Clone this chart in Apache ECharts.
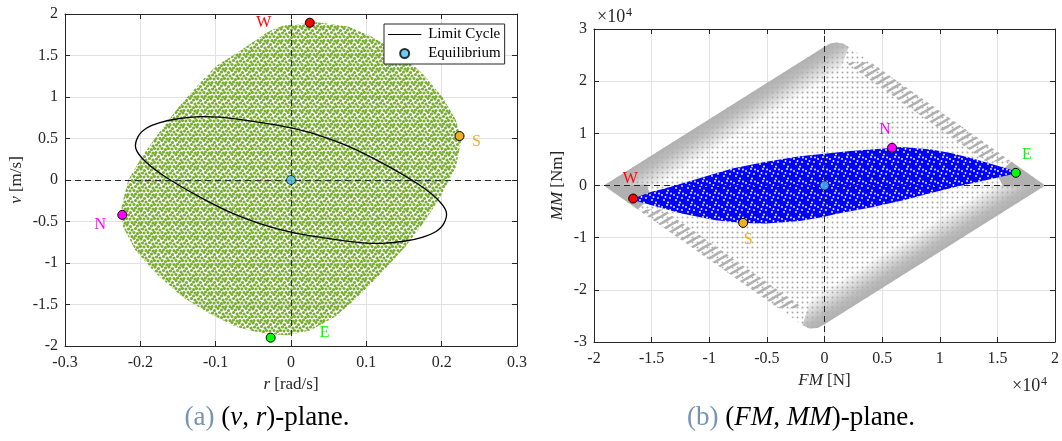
<!DOCTYPE html>
<html>
<head>
<meta charset="utf-8">
<script src="https://cdn.jsdelivr.net/npm/echarts@6.0.0/dist/echarts.min.js"></script>
<style>
  html, body { margin: 0; background: #fff; }
  #chart { width: 1062px; height: 441px; }
</style>
</head>
<body>
<div id="chart"></div>
<script>
// ---- left panel: (v, r)-plane, r in rad/s, v in m/s ----
const vrCloudOutline = [
  [0.035, 1.9], [-0.01, 1.86], [-0.03, 1.79], [-0.046, 1.69], [-0.072, 1.53], [-0.1, 1.37],
  [-0.122, 1.16], [-0.149, 0.88], [-0.176, 0.56], [-0.198, 0.28], [-0.216, 0], [-0.225, -0.32],
  [-0.223, -0.56], [-0.207, -0.84], [-0.18, -1.12], [-0.144, -1.41], [-0.108, -1.61],
  [-0.072, -1.77], [-0.037, -1.85], [-0.005, -1.87], [0.026, -1.81], [0.058, -1.65],
  [0.089, -1.41], [0.12, -1.12], [0.152, -0.8], [0.179, -0.48], [0.201, -0.16], [0.219, 0.16],
  [0.226, 0.48], [0.219, 0.72], [0.201, 1.0], [0.174, 1.29], [0.143, 1.53], [0.107, 1.73],
  [0.076, 1.85]
];
const limitCycle = [
  [-0.206, 0.38], [-0.203, 0.522], [-0.192, 0.623], [-0.174, 0.69], [-0.152, 0.735],
  [-0.121, 0.763], [-0.095, 0.757], [-0.064, 0.725], [-0.033, 0.683], [0, 0.628],
  [0.034, 0.548], [0.078, 0.4], [0.122, 0.2], [0.167, -0.04], [0.193, -0.22],
  [0.206, -0.38], [0.203, -0.522], [0.192, -0.623], [0.174, -0.69], [0.152, -0.735],
  [0.121, -0.763], [0.095, -0.757], [0.064, -0.725], [0.033, -0.683], [0, -0.628],
  [-0.034, -0.548], [-0.078, -0.4], [-0.122, -0.2], [-0.167, 0.04], [-0.193, 0.22]
];
const vrEquilibrium = [0, 0];
const markNames = ['W', 'S', 'N', 'E'];
const vrMarks = [[0.025, 1.895], [0.2237, 0.53], [-0.224, -0.42], [-0.027, -1.9]];

// ---- right panel: (FM, MM)-plane, both in units of 1e4 ----
const fmDiamond = [
  [-1.915, 0], [0.0, 2.66], [0.05, 2.72], [0.1, 2.74], [0.16, 2.72], [0.21, 2.66],
  [1.915, 0], [0.0, -2.66], [-0.06, -2.73], [-0.13, -2.74], [-0.19, -2.68]
];
const fmBandTL = [[-1.915, 0], [0.0, 2.66], [0.05, 2.72], [0.1, 2.74], [0.16, 2.72], [0.21, 2.66], [0.1, 2.0], [-1.4, 0.0]];
const fmBandBR = [[1.915, 0], [0.0, -2.66], [-0.06, -2.73], [-0.13, -2.74], [-0.19, -2.68], [-0.1, -2.0], [1.4, 0.0]];
const fmTipW = [[-1.915, 0], [-1.62, -0.46], [-1.5, -0.2], [-1.55, 0.02]];
const fmTipE = [[1.915, 0], [1.62, 0.46], [1.5, 0.2], [1.55, -0.02]];
const fmStreakUR = [[0.4, 2.364], [1.62, 0.46], [1.4, 0.46], [0.18, 2.364]];
const fmStreakLL = [[-1.62, -0.46], [-0.4, -2.354], [-0.18, -2.354], [-1.4, -0.46]];
const fmCloudOutline = [
  [-1.66, -0.25], [-1.5, -0.12], [-1.385, -0.058], [-1.092, 0.134], [-0.8, 0.326],
  [-0.507, 0.454], [-0.214, 0.56], [0, 0.61], [0.225, 0.66], [0.518, 0.71], [0.665, 0.74],
  [0.928, 0.69], [1.104, 0.62], [1.28, 0.52], [1.45, 0.41], [1.63, 0.29], [1.68, 0.25],
  [1.6, 0.2], [1.4, 0.1], [1.133, -0.03], [0.9, -0.16], [0.694, -0.28], [0.4, -0.42],
  [0.108, -0.54], [0, -0.6], [-0.214, -0.68], [-0.507, -0.73], [-0.706, -0.72],
  [-0.946, -0.665], [-1.239, -0.537], [-1.531, -0.358], [-1.64, -0.29]
];
const fmEquilibrium = [0, 0];
const fmMarks = [[-1.66, -0.25], [-0.706, -0.717], [0.586, 0.723], [1.66, 0.243]];

// ---- styles ----
const SERIF = '"Liberation Serif", "Times New Roman", serif';
const INK = '#262626';
const markColors = ['#ff0000', '#edb120', '#ff00ff', '#00ff00'];
const vrLabelOffset = [[-46, 0], [17, 6], [-22, 10], [54, -5]];
const fmLabelOffset = [[-3, -20], [5, 17], [-7, -18], [11, -18]];

function tile(w, h, draw) {
  const c = document.createElement('canvas');
  c.width = w; c.height = h;
  draw(c.getContext('2d'));
  return { image: c, repeat: 'repeat' };
}
function dotTile(w, h, pts, r, color, bg) {
  return tile(w, h, g => {
    if (bg) { g.fillStyle = bg; g.fillRect(0, 0, w, h); }
    g.fillStyle = color;
    pts.forEach(([x, y]) => {
      for (let i = -1; i <= 1; i++) for (let j = -1; j <= 1; j++) {
        g.beginPath(); g.arc(x + i * w, y + j * h, r, 0, Math.PI * 2); g.fill();
      }
    });
  });
}
function stripeTile(w, h, lw, color) {
  return tile(w, h, g => {
    g.strokeStyle = color; g.lineWidth = lw;
    [-h, 0, h].forEach(d => { g.beginPath(); g.moveTo(-1, h + d + h / w); g.lineTo(w + 1, d - h / w); g.stroke(); });
  });
}

const greenFill = dotTile(14, 14, [[1, 1], [4.5, 2.5], [8, 0.5], [11.5, 2], [2.5, 5], [6, 6], [9.5, 4.5],
  [13, 6], [0.5, 8.5], [4, 9], [8, 8.5], [11.5, 9.5], [2, 12.5], [6, 12.5], [9.5, 12], [13, 13]],
  1.55, '#77ac30');
const blueFill = dotTile(12, 12, [[2, 3], [7, 1], [10, 6], [4, 8], [8, 10.5], [11, 1.5], [5.5, 5]], 0.9, '#ffffff', '#0000ff');
const grayDots = dotTile(5, 5, [[2.5, 2.5]], 1.0, '#a6a6a6');
const grayStripes = stripeTile(12, 7.2, 2.6, '#b0b0b0');

function area(name, ax, pts, fill, z) {
  return {
    type: 'custom', name, xAxisIndex: ax, yAxisIndex: ax, z, silent: true, animation: false,
    data: pts,
    renderItem(params, api) {
      if (params.dataIndex !== 0) return null;
      return { type: 'polygon', shape: { points: pts.map(p => api.coord(p)) }, style: { fill } };
    }
  };
}
// polygon filled with gray that fades away from its first edge (pts[0] -> pts[1])
function fadeArea(name, ax, pts, width, z) {
  return {
    type: 'custom', name, xAxisIndex: ax, yAxisIndex: ax, z, silent: true, animation: false,
    data: pts,
    renderItem(params, api) {
      if (params.dataIndex !== 0) return null;
      const px = pts.map(p => api.coord(p));
      const a = px[0], b = px[1];
      let nx = a[1] - b[1], ny = b[0] - a[0];
      const len = Math.hypot(nx, ny); nx /= len; ny /= len;
      const cx = px.reduce((s, p) => s + p[0], 0) / px.length;
      const cy = px.reduce((s, p) => s + p[1], 0) / px.length;
      const mx = (a[0] + b[0]) / 2, my = (a[1] + b[1]) / 2;
      if ((cx - mx) * nx + (cy - my) * ny < 0) { nx = -nx; ny = -ny; }
      const fill = new echarts.graphic.LinearGradient(mx, my, mx + nx * width, my + ny * width, [
        { offset: 0, color: 'rgba(176,176,176,1)' },
        { offset: 0.3, color: 'rgba(176,176,176,0.85)' },
        { offset: 1, color: 'rgba(176,176,176,0)' }
      ], true);
      return { type: 'polygon', shape: { points: px }, style: { fill } };
    }
  };
}
function zeroLines(ax, z) {
  return {
    type: 'line', xAxisIndex: ax, yAxisIndex: ax, data: [], z, animation: false,
    markLine: {
      silent: true, symbol: 'none', animation: false, label: { show: false },
      lineStyle: { type: [6, 4], color: INK, width: 1 },
      data: [{ xAxis: 0 }, { yAxis: 0 }]
    }
  };
}
function marks(ax, pts, offsets) {
  return pts.map((p, i) => ({
    type: 'scatter', xAxisIndex: ax, yAxisIndex: ax, z: 8, animation: false, silent: true,
    data: [p], symbolSize: 9,
    itemStyle: { color: markColors[i], borderColor: '#000', borderWidth: 1, opacity: 1 },
    label: { show: true, formatter: markNames[i], position: 'inside', offset: offsets[i],
      color: markColors[i], fontFamily: SERIF, fontSize: 16 }
  }));
}

const tickLabel = { color: INK, fontFamily: SERIF, fontSize: 16 };
function axisPair(grid, dim, min, max, interval, name, gap, fmt) {
  const main = {
    gridIndex: grid, type: 'value', min, max, interval,
    position: dim === 'x' ? 'bottom' : 'left',
    axisLine: { show: true, onZero: false, lineStyle: { color: INK } },
    axisTick: { show: true, inside: true, length: 5, lineStyle: { color: INK } },
    axisLabel: Object.assign({ margin: dim === 'x' ? 9 : 7, formatter: fmt }, tickLabel),
    splitLine: { show: true, lineStyle: { color: '#e2e2e2' } },
    name, nameLocation: 'middle', nameGap: gap,
    nameTextStyle: { color: INK, fontFamily: SERIF, fontSize: 17,
      rich: { i: { fontStyle: 'italic', fontFamily: SERIF, fontSize: 17, color: INK } } }
  };
  const mirror = {
    gridIndex: grid, type: 'value', min, max, interval,
    position: dim === 'x' ? 'top' : 'right',
    axisLine: { show: true, onZero: false, lineStyle: { color: INK } },
    axisTick: { show: true, inside: true, length: 5, lineStyle: { color: INK } },
    axisLabel: { show: false }, splitLine: { show: false }
  };
  return [main, mirror];
}
const fmt1e4 = v => String(Math.round(v * 10) / 10);
const capRich = {
  a: { fill: '#7493b5', color: '#7493b5', fontFamily: SERIF, fontSize: 27 },
  i: { fill: '#000', color: '#000', fontFamily: SERIF, fontSize: 27, fontStyle: 'italic' }
};

const chart = echarts.init(document.getElementById('chart'));
chart.setOption({
  animation: false,
  backgroundColor: '#fff',
  grid: [
    { left: 65, top: 14, width: 452, height: 332 },
    { left: 594, top: 29, width: 464, height: 313 }
  ],
  xAxis: [
    ...axisPair(0, 'x', -0.3, 0.3, 0.1, '{i|r} [rad/s]', 27),
    ...axisPair(1, 'x', -2, 2, 0.5, '{i|FM} [N]', 27, fmt1e4)
  ],
  yAxis: [
    ...axisPair(0, 'y', -2, 2, 0.5, '{i|v} [m/s]', 40),
    ...axisPair(1, 'y', -3, 3, 1, '{i|MM} [Nm]', 28, fmt1e4)
  ],
  legend: {
    data: [
      { name: 'Limit Cycle', icon: 'path://M0,0h0.01v0.01h-0.01zM0,4.4h37v1.2h-37zM36.99,9.99h0.01v0.01h-0.01z' },
      { name: 'Equilibrium', icon: 'circle' }
    ],
    left: 384, top: 24, orient: 'vertical', selectedMode: false,
    itemWidth: 37, itemHeight: 9, itemGap: 4, padding: [3, 4, 3, 4],
    borderColor: INK, borderWidth: 1, backgroundColor: '#fff',
    textStyle: { fontFamily: SERIF, fontSize: 15, color: '#000' }
  },
  graphic: [
    { type: 'text', x: 267, y: 418, style: { text: '{a|(a)} ({i|v}, {i|r})-plane.', align: 'center', verticalAlign: 'middle',
      fontFamily: SERIF, fontSize: 27, fill: '#000', rich: capRich } },
    { type: 'text', x: 801, y: 418, style: { text: '{a|(b)} ({i|FM}, {i|MM})-plane.', align: 'center', verticalAlign: 'middle',
      fontFamily: SERIF, fontSize: 27, fill: '#000', rich: capRich } },
    { type: 'text', x: 597, y: 26, style: { text: '×10', font: '18px ' + SERIF, fill: INK, verticalAlign: 'bottom' } },
    { type: 'text', x: 626, y: 7, style: { text: '4', font: '12px ' + SERIF, fill: INK } },
    { type: 'text', x: 1012, y: 395, style: { text: '×10', font: '18px ' + SERIF, fill: INK, verticalAlign: 'bottom' } },
    { type: 'text', x: 1041, y: 376, style: { text: '4', font: '12px ' + SERIF, fill: INK } }
  ],
  series: [
    // left panel
    area('vrCloud', 0, vrCloudOutline, greenFill, 1),
    {
      type: 'custom', name: 'Limit Cycle', xAxisIndex: 0, yAxisIndex: 0, z: 5, animation: false, silent: true,
      data: limitCycle, itemStyle: { color: '#000' },
      renderItem(params, api) {
        if (params.dataIndex !== 0) return null;
        return { type: 'polygon', shape: { points: limitCycle.map(p => api.coord(p)), smooth: 0.3 },
          style: { fill: 'none', stroke: '#000', lineWidth: 1.3 } };
      }
    },
    zeroLines(0, 4),
    {
      type: 'scatter', name: 'Equilibrium', xAxisIndex: 0, yAxisIndex: 0, z: 8, animation: false,
      data: [vrEquilibrium], symbolSize: 9,
      itemStyle: { color: '#4dbeee', borderColor: '#000', borderWidth: 0.8 }
    },
    ...marks(0, vrMarks, vrLabelOffset),
    // right panel
    area('fmDiamond', 2, fmDiamond, grayDots, 1),
    fadeArea('fmBandTL', 2, fmBandTL, 30, 2),
    fadeArea('fmBandBR', 2, fmBandBR, 30, 2),
    area('fmTipW', 2, fmTipW, '#b0b0b0', 2),
    area('fmTipE', 2, fmTipE, '#b0b0b0', 2),
    area('fmStreakUR', 2, fmStreakUR, grayStripes, 2),
    area('fmStreakLL', 2, fmStreakLL, grayStripes, 2),
    zeroLines(2, 3),
    area('fmCloud', 2, fmCloudOutline, blueFill, 4),
    {
      type: 'scatter', name: 'eqRight', xAxisIndex: 2, yAxisIndex: 2, z: 8, animation: false,
      data: [fmEquilibrium], symbolSize: 9,
      itemStyle: { color: '#4dbeee', borderColor: '#000', borderWidth: 0.8 }
    },
    ...marks(2, fmMarks, fmLabelOffset)
  ]
});
</script>
</body>
</html>
